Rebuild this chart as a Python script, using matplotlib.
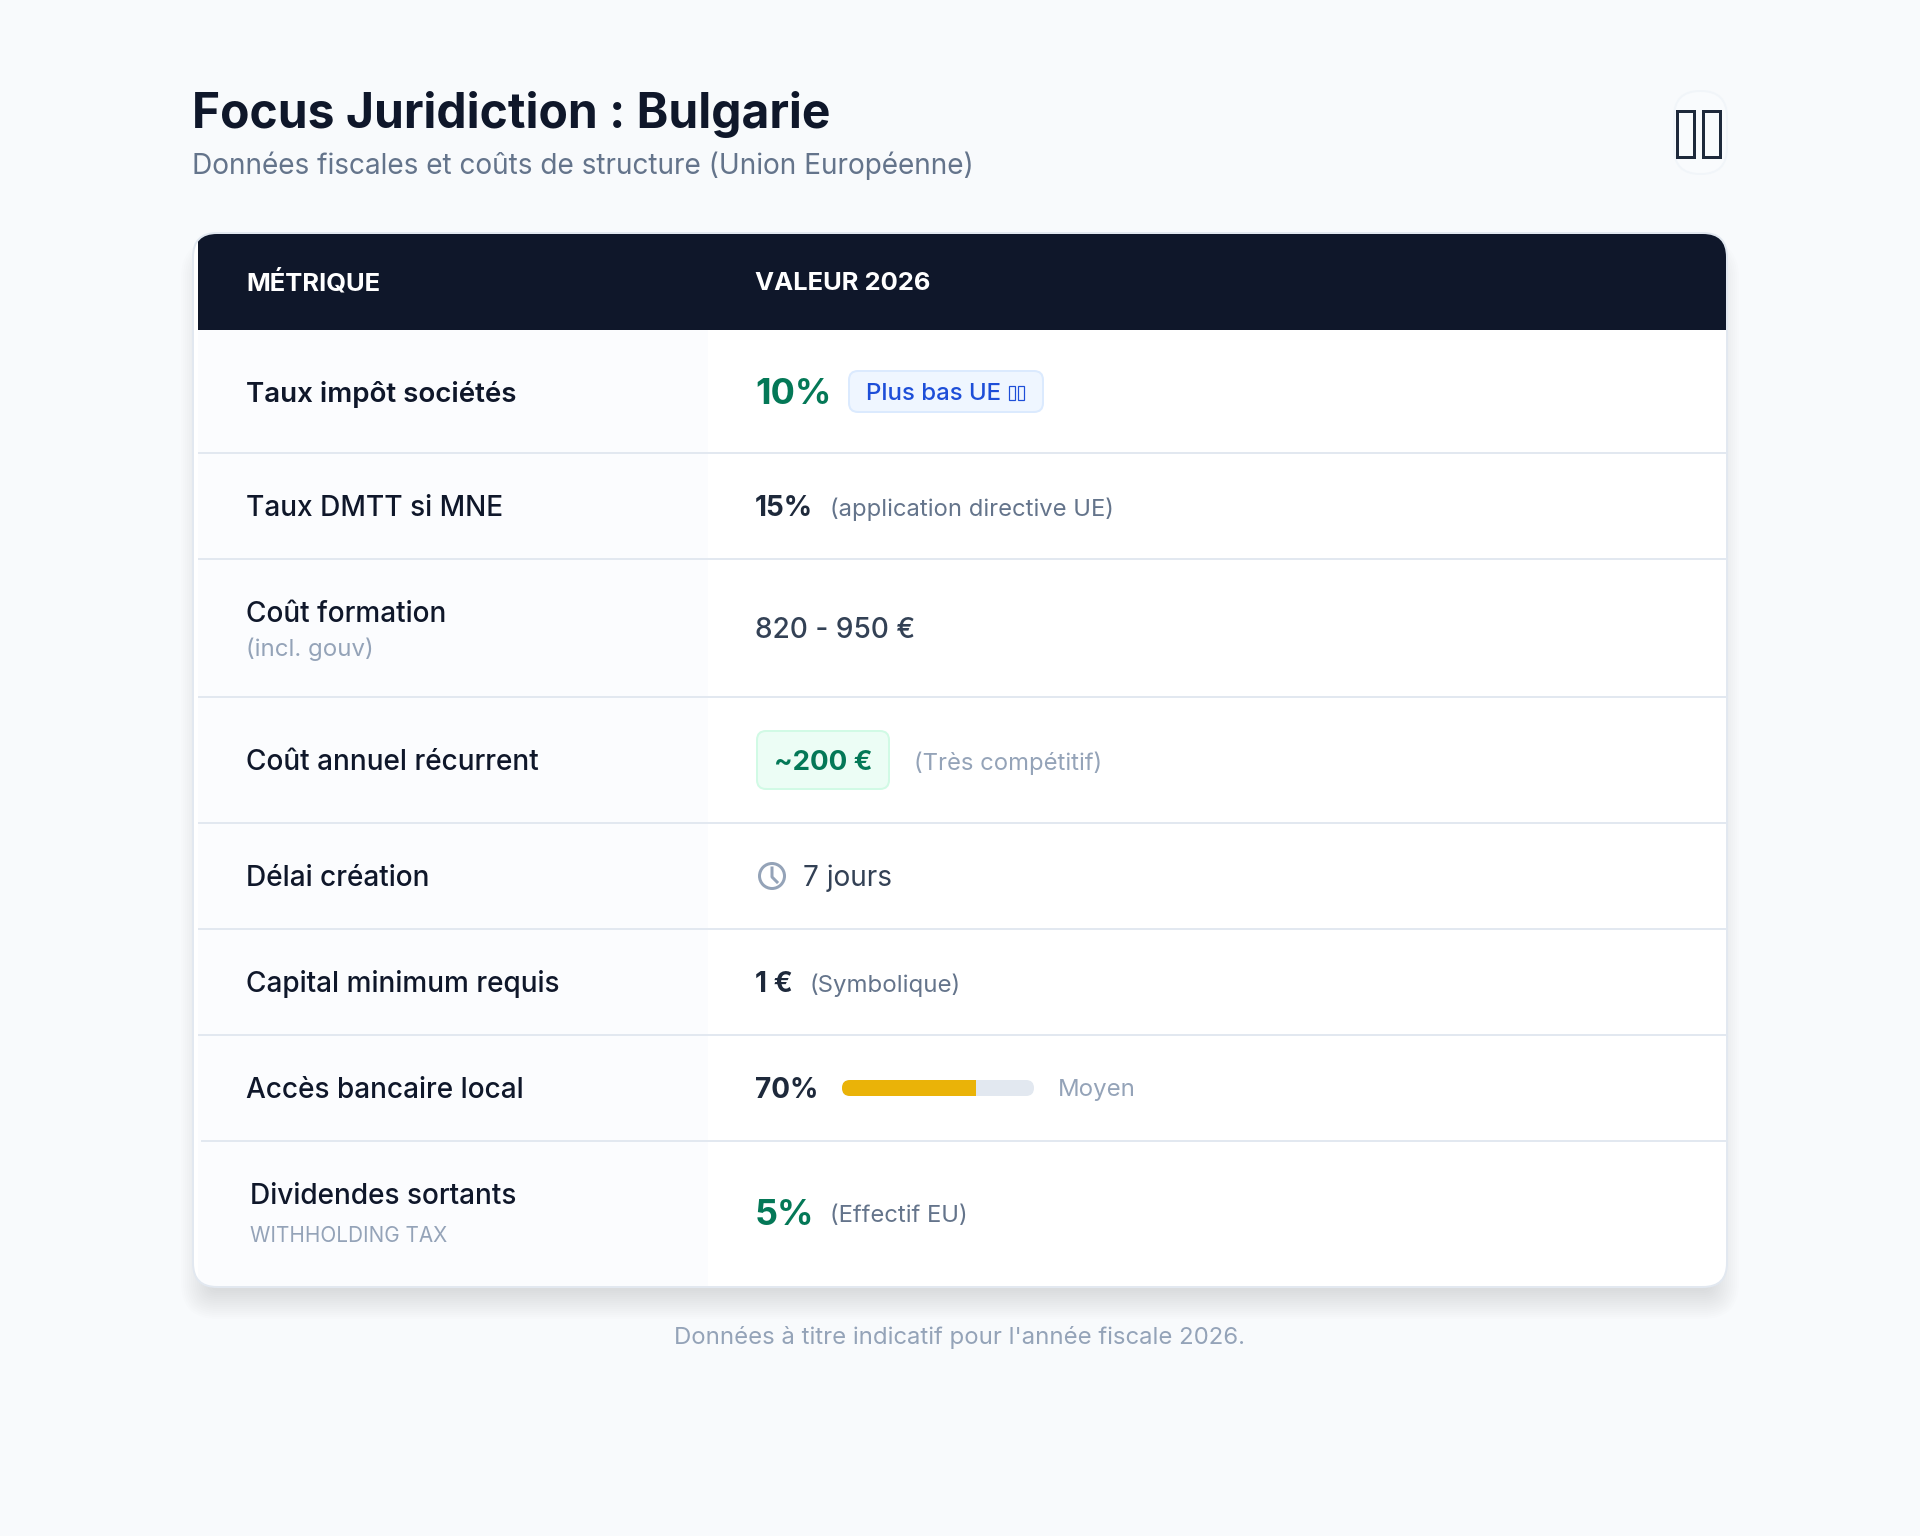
import matplotlib
matplotlib.use("Agg")
import matplotlib.pyplot as plt
from matplotlib.patches import FancyBboxPatch, Rectangle, Circle

plt.rcParams['font.family'] = ['Inter', 'DejaVu Sans']

# table content
title = "Focus Juridiction : Bulgarie"
subtitle = "Données fiscales et coûts de structure (Union Européenne)"
headers = ["MÉTRIQUE", "VALEUR 2026"]
metrics = ["Taux impôt sociétés", "Taux DMTT si MNE", "Coût formation", "Coût annuel récurrent",
           "Délai création", "Capital minimum requis", "Accès bancaire local", "Dividendes sortants"]
metric_notes = {2: "(incl. gouv)", 7: "WITHHOLDING TAX"}
values = ["10%", "15%", "820 - 950 €", "~200 €", "7 jours", "1 €", "70%", "5%"]
value_notes = ["Plus bas UE", "(application directive UE)", "", "(Très compétitif)", "", "(Symbolique)", "Moyen", "(Effectif EU)"]
bank_access = 0.70
footer = "Données à titre indicatif pour l'année fiscale 2026."

BG = "#f8fafc"
NAVY = "#0f172a"
SLATE = "#334155"
GREY = "#64748b"
LIGHT = "#94a3b8"
LINE = "#e2e8f0"
GREEN = "#047857"
BLUE = "#1d4ed8"

fig = plt.figure(figsize=(19.2, 15.36), dpi=100, facecolor=BG)
ax = fig.add_axes([0, 0, 1, 1])
ax.set_xlim(0, 1920)
ax.set_ylim(1536, 0)
ax.axis("off")


def txt(x, y, s, px, color, weight="normal", ha="left"):
    # px is the font size in output pixels
    return ax.text(x, y, s, fontsize=px * 0.72, color=color, fontweight=weight, ha=ha, va="baseline", zorder=6)


def rbox(x0, y0, x1, y1, r, fc, ec="none", lw=0, z=2, alpha=None):
    p = FancyBboxPatch((x0 + r, y0 + r), x1 - x0 - 2 * r, y1 - y0 - 2 * r, boxstyle=f"round,pad={r},rounding_size={r}",
                       fc=fc, ec=ec, lw=lw * 0.72, zorder=z, alpha=alpha, mutation_aspect=1)
    ax.add_patch(p)
    return p


def tofu(x0, y0, x1, y1, color, lw):
    ax.add_patch(Rectangle((x0, y0), x1 - x0, y1 - y0, fc="none", ec=color, lw=lw * 0.72, zorder=6))


# header text
txt(192, 128, title, 48, NAVY, "bold")
txt(192, 174, subtitle, 28, GREY)

# flag pill, the emoji falls back to two empty boxes in the source
rbox(1674, 91, 1727, 174, 26, "#f9fbfd", "#f1f5f9", 2)
tofu(1677, 111, 1694, 157, "#1e293b", 3)
tofu(1703, 111, 1720, 157, "#1e293b", 3)

# card shadow, pushed down and inset so the top stays clean
for grow in range(-16, 14, 2):
    rbox(193 - grow, 233 - grow + 20, 1727 + grow, 1287 + grow + 20, max(24 + grow, 10), "#0f172a", z=1, alpha=0.006)
card = rbox(193, 233, 1727, 1287, 24, "white", z=2)

# left column, header band
side = Rectangle((198, 330), 510, 957, fc="#fbfcfe", ec="none", zorder=2.1)
ax.add_patch(side)
side.set_clip_path(card)
band = Rectangle((198, 234), 1529, 96, fc=NAVY, ec="none", zorder=2.2)
ax.add_patch(band)
band.set_clip_path(card)
rbox(193, 233, 1727, 1287, 24, "none", LINE, 2, z=2.5)

seps = [453, 559, 697, 823, 929, 1035, 1141]
for i, y in enumerate(seps):
    ax.plot([198 if i < 6 else 201, 1726], [y, y], color=LINE, lw=2 * 0.72, zorder=3, solid_capstyle="butt")

txt(246, 290, headers[0], 25.6, "white", "bold")
txt(755, 290, headers[1], 25.6, "white", "bold")

# left column labels
metric_y = [402, 516, 622, 770, 886, 992, 1098, 1204]
metric_x = [246, 246, 246, 246, 246, 246, 246, 250]
metric_w = ["semibold", "medium", "medium", "medium", "medium", "medium", "medium", "medium"]
metric_px = [27.7, 28, 28, 28, 28, 28, 28, 28]
for i, name in enumerate(metrics):
    txt(metric_x[i], metric_y[i], name, metric_px[i], NAVY, metric_w[i])
txt(246, 656, metric_notes[2], 24, LIGHT)
txt(250, 1242, metric_notes[7], 20.7, LIGHT)

# right column
txt(755, 404, values[0], 36, GREEN, "bold")
rbox(849, 371, 1043, 412, 9, "#eff6ff", "#dbeafe", 2, z=4)
txt(866, 400, value_notes[0], 24, BLUE, "medium")
tofu(1009, 386, 1015, 400, BLUE, 1.2)
tofu(1018, 386, 1024, 400, BLUE, 1.2)

txt(755, 516, values[1], 28, "#1e293b", "bold")
txt(830, 516, value_notes[1], 23.8, GREY)

txt(755, 638, values[2], 28, SLATE, "medium")

rbox(757, 731, 889, 789, 9, "#ecfdf5", "#d1fae5", 2, z=4)
txt(774, 770, values[3], 27.6, GREEN, "bold")
txt(914, 770, value_notes[3], 23.8, LIGHT)

ax.add_patch(Circle((772, 876), 12.5, fc="none", ec=LIGHT, lw=3 * 0.72, zorder=5))
ax.plot([772, 772, 777], [868, 877, 882], color=LIGHT, lw=3 * 0.72, zorder=5)
txt(803, 886, values[4], 28, SLATE)

txt(755, 992, values[5], 28, "#1e293b", "bold")
txt(809, 992, value_notes[5], 24, GREY)

txt(755, 1098, values[6], 28, "#1e293b", "bold")
track_x0, track_x1 = 842, 1034
track = rbox(track_x0, 1080, track_x1, 1096, 8, LINE, z=4)
fill = Rectangle((track_x0, 1080), (track_x1 - track_x0) * bank_access, 16, fc="#eab308", ec="none", zorder=5)
ax.add_patch(fill)
fill.set_clip_path(track)
txt(1058, 1096, value_notes[6], 24, LIGHT)

txt(755, 1225, values[7], 36, GREEN, "bold")
txt(830, 1222, value_notes[7], 23.8, GREY)

txt(960, 1344, footer, 23.9, LIGHT, ha="center")

fig.savefig("out.png", dpi=100, facecolor=BG)
